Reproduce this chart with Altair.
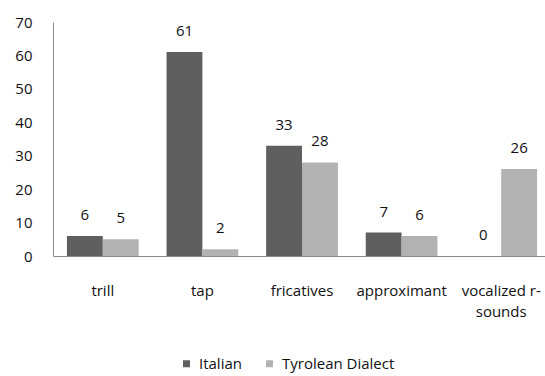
import altair as alt
import pandas as pd

categories = ["trill", "tap", "fricatives", "approximant", "vocalized r-sounds"]
italian = [6, 61, 33, 7, 0]
tyrolean = [5, 2, 28, 6, 26]
series = ["Italian", "Tyrolean Dialect"]
colors = ["#5f5f5f", "#b2b2b2"]

rows = []
for i, c in enumerate(categories):
    rows.append({"category": c, "series": series[0], "value": italian[i]})
    rows.append({"category": c, "series": series[1], "value": tyrolean[i]})
df = pd.DataFrame(rows)

FONT = "Open Sans"
FS = 15
TXT = "#111111"
AXIS_GRAY = "#8a8a8a"

x_enc = alt.X(
    "category:N",
    sort=categories,
    scale=alt.Scale(paddingInner=0.28, paddingOuter=0.14, range=[0, 498]),
    axis=alt.Axis(
        title=None, labelAngle=0, ticks=False, labelPadding=27,
        domainColor=AXIS_GRAY, labelFont=FONT, labelFontSize=FS,
        labelColor=TXT, labelLineHeight=21, labelOverlap=False,
        labelExpr="datum.value == 'vocalized r-sounds' ? ['vocalized r-', 'sounds'] : datum.value",
    ),
)
xoff = alt.XOffset("series:N", sort=series)
y_enc = alt.Y(
    "value:Q",
    scale=alt.Scale(domain=[0, 70]),
    axis=alt.Axis(
        title=None, values=[0, 10, 20, 30, 40, 50, 60, 70], ticks=False,
        grid=False, labelPadding=21, domainColor=AXIS_GRAY, labelFont=FONT,
        labelFontSize=FS, labelColor=TXT, labelOverlap=False,
    ),
)

bars = alt.Chart(df).mark_bar().encode(
    x=x_enc,
    xOffset=xoff,
    y=y_enc,
    color=alt.Color(
        "series:N",
        sort=series,
        scale=alt.Scale(domain=series, range=colors),
        legend=alt.Legend(
            title=None, orient="none", direction="horizontal",
            legendX=126, legendY=334, symbolType="square", symbolSize=49,
            symbolStrokeWidth=0, labelFont=FONT, labelFontSize=FS,
            labelColor=TXT, columnPadding=20, labelOffset=5,
        ),
    ),
)

labels = alt.Chart(df).mark_text(
    baseline="middle", dy=-21, font=FONT, fontSize=FS, color=TXT
).encode(
    x=x_enc,
    xOffset=xoff,
    y=y_enc,
    text="value:Q",
)

chart = (
    alt.layer(bars, labels)
    .properties(
        width=492, height=234,
        padding={"left": 53, "top": 22, "right": 0, "bottom": 120},
        autosize=alt.AutoSizeParams(type="none"),
        background="white",
    )
    .configure_view(stroke=None)
)

chart.save("out.html", embed_options={"renderer": "svg", "actions": False})
